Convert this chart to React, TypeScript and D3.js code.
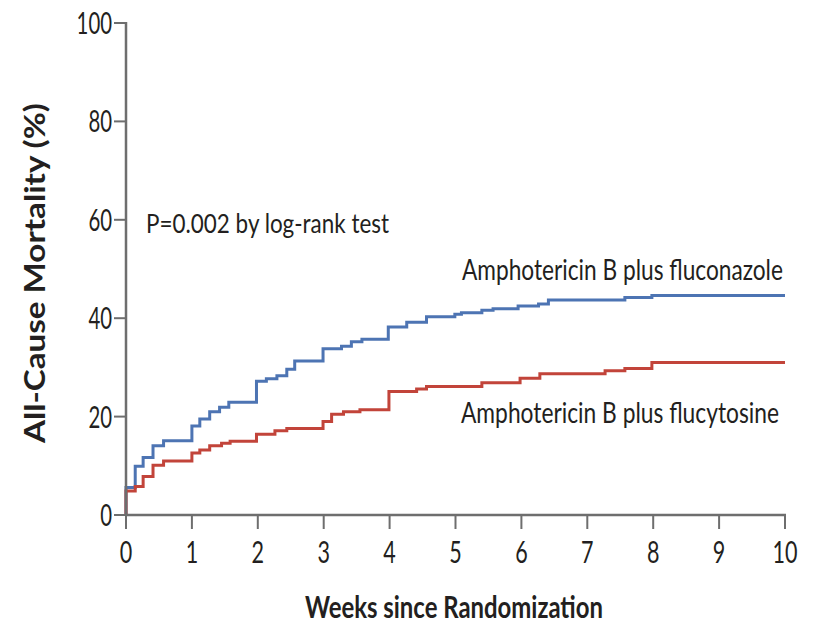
import React, { useLayoutEffect, useRef, useState } from "react";
import * as d3 from "d3";

// Kaplan–Meier style cumulative mortality (%) by week since randomization
const fluconazoleWeeks = [0, 0, 0.14, 0.26, 0.41, 0.57, 1.0, 1.12, 1.27, 1.42, 1.56, 1.98, 2.13, 2.29, 2.44, 2.56, 2.99, 3.27, 3.42, 3.58, 3.98, 4.26, 4.56, 4.99, 5.09, 5.4, 5.57, 5.95, 6.26, 6.41, 7.57, 7.98, 10];
const fluconazoleMortality = [0, 5.6, 9.9, 11.7, 14.1, 15.1, 18.1, 19.5, 21.0, 21.9, 22.9, 27.2, 27.7, 28.3, 29.6, 31.3, 33.8, 34.3, 35.2, 35.7, 38.2, 39.2, 40.3, 40.8, 41.1, 41.6, 41.9, 42.5, 42.9, 43.7, 44.2, 44.6, 44.6];

const flucytosineWeeks = [0, 0, 0.14, 0.26, 0.41, 0.57, 1.0, 1.12, 1.27, 1.45, 1.58, 1.98, 2.26, 2.44, 2.99, 3.12, 3.3, 3.55, 3.99, 4.41, 4.56, 5.4, 5.98, 6.28, 7.27, 7.57, 7.98, 10];
const flucytosineMortality = [0, 4.9, 5.8, 7.8, 10.1, 11.0, 12.6, 13.2, 14.1, 14.6, 15.0, 16.4, 17.1, 17.6, 19.0, 20.5, 21.0, 21.4, 25.1, 25.6, 26.1, 26.9, 27.8, 28.7, 29.3, 29.8, 31.0, 31.0];

const xTicks = [0, 1, 2, 3, 4, 5, 6, 7, 8, 9, 10];
const yTicks = [0, 20, 40, 60, 80, 100];

const seriesNames = ["Amphotericin B plus fluconazole", "Amphotericin B plus flucytosine"];
const pValueNote = "P=0.002 by log-rank test";
const xTitle = "Weeks since Randomization";
const yTitle = "All-Cause Mortality (%)";

const W = 820;
const H = 625;
const FONT = "Lato, 'Open Sans', 'DejaVu Sans', sans-serif";
const INK = "#231f20";
const AXIS = "#6e6e6e";
const BLUE = "#4d74b3";
const RED = "#c2443a";

// Text squeezed horizontally (via transform) so its width equals `width`.
function FitText(props: {
  x: number;
  y: number;
  width: number;
  size: number;
  weight?: number;
  rotate?: number;
  children: string;
}) {
  const ref = useRef<SVGTextElement>(null);
  const [sx, setSx] = useState(0.8);
  useLayoutEffect(() => {
    const el = ref.current;
    if (!el) return;
    const natural = el.getComputedTextLength();
    if (natural > 0) setSx(props.width / natural);
  }, [props.width, props.children, props.size]);
  const rot = props.rotate ? ` rotate(${props.rotate})` : "";
  return (
    <text
      ref={ref}
      transform={`translate(${props.x},${props.y})${rot} scale(${sx},1)`}
      fontSize={props.size}
      fontWeight={props.weight ?? 400}
      fill={INK}
    >
      {props.children}
    </text>
  );
}

export default function App() {
  const x = d3.scaleLinear().domain([0, 10]).range([126, 785]);
  const y = d3.scaleLinear().domain([0, 100]).range([515, 23]);

  const line = d3
    .line<[number, number]>()
    .x((d) => x(d[0]))
    .y((d) => y(d[1]))
    .curve(d3.curveStepAfter);

  const blue = fluconazoleWeeks.map((w, i) => [w, fluconazoleMortality[i]] as [number, number]);
  const red = flucytosineWeeks.map((w, i) => [w, flucytosineMortality[i]] as [number, number]);

  const x0 = x(0);
  const y0 = y(0);

  return (
    <svg
      width={W}
      height={H}
      style={{ position: "absolute", left: 0, top: 0, background: "#fff" }}
      fontFamily={FONT}
    >
      <rect width={W} height={H} fill="#fff" />

      {/* curves */}
      <path d={line(blue) ?? ""} fill="none" stroke={BLUE} strokeWidth={3} />
      <path d={line(red) ?? ""} fill="none" stroke={RED} strokeWidth={3} />

      {/* y axis */}
      <line x1={x0} x2={x0} y1={y(100) - 1} y2={y0 + 1} stroke={AXIS} strokeWidth={2.5} />
      {yTicks.map((t) => (
        <g key={`y${t}`}>
          <line x1={x0 - 12} x2={x0} y1={y(t)} y2={y(t)} stroke={AXIS} strokeWidth={2} />
          <text
            x={x0 - 14}
            y={y(t) + 11}
            fontSize={31}
            fill={INK}
            textAnchor="end"
            textLength={String(t).length * 11.8}
            lengthAdjust="spacingAndGlyphs"
          >
            {t}
          </text>
        </g>
      ))}

      {/* x axis */}
      <line x1={x0 - 1} x2={x(10) + 1} y1={y0} y2={y0} stroke={AXIS} strokeWidth={2.5} />
      {xTicks.map((t) => (
        <g key={`x${t}`}>
          <line x1={x(t)} x2={x(t)} y1={y0} y2={y0 + 14} stroke={AXIS} strokeWidth={2} />
          <text
            x={x(t)}
            y={563}
            fontSize={31}
            fill={INK}
            textAnchor="middle"
            textLength={String(t).length * 12.5}
            lengthAdjust="spacingAndGlyphs"
          >
            {t}
          </text>
        </g>
      ))}

      {/* axis titles */}
      <FitText x={305} y={618} width={298} size={31} weight={700}>
        {xTitle}
      </FitText>
      <FitText x={45} y={443} width={340} size={28} weight={700} rotate={-90}>
        {yTitle}
      </FitText>

      {/* annotations */}
      <FitText x={146} y={233} width={243} size={26}>
        {pValueNote}
      </FitText>
      <FitText x={462} y={280} width={321} size={28}>
        {seriesNames[0]}
      </FitText>
      <FitText x={461} y={423} width={318} size={28}>
        {seriesNames[1]}
      </FitText>
    </svg>
  );
}
